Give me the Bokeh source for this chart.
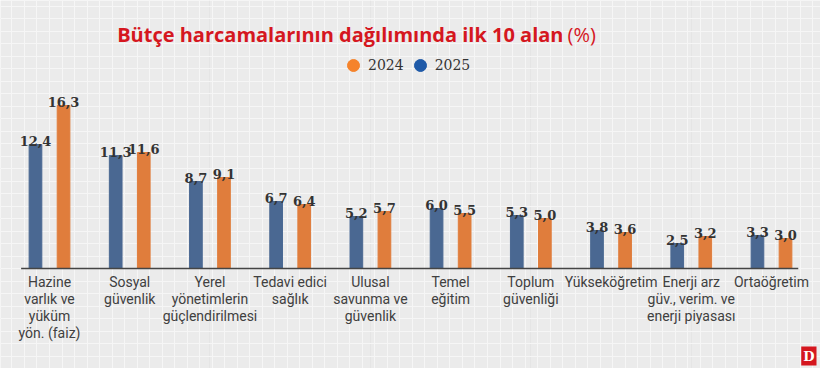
from bokeh.plotting import figure
from bokeh.models import (ColumnDataSource, Range1d, Label, Legend, LegendItem,
                          Grid, SingleIntervalTicker)
from bokeh.core.properties import value
from bokeh.embed import file_html
from bokeh.resources import INLINE
import numpy as np

# ---- data ----
categories = [
    "Hazine\nvarlık ve\nyüküm\nyön. (faiz)",
    "Sosyal\ngüvenlik",
    "Yerel\nyönetimlerin\ngüçlendirilmesi",
    "Tedavi edici\nsağlık",
    "Ulusal\nsavunma ve\ngüvenlik",
    "Temel\neğitim",
    "Toplum\ngüvenliği",
    "Yükseköğretim",
    "Enerji arz\ngüv., verim. ve\nenerji piyasası",
    "Ortaöğretim",
]
values_2025 = [12.4, 11.3, 8.7, 6.7, 5.2, 6.0, 5.3, 3.8, 2.5, 3.3]
values_2024 = [16.3, 11.6, 9.1, 6.4, 5.7, 5.5, 5.0, 3.6, 3.2, 3.0]
series_names = ["2024", "2025"]

title_main = "Bütçe harcamalarının dağılımında ilk 10 alan"
title_unit = "(%)"

# ---- styles ----
BLUE = "#4a6892"
ORANGE = "#e07d3c"
LEG_BLUE = "#1f5aa8"
LEG_ORANGE = "#f5832b"
RED = "#d5171f"
TXT = "#333333"
W, H = 820, 368
DODGE = 0.175
BAR_W = 0.158

xs = np.arange(len(categories), dtype=float)

def fmt(v):
    return f"{v:.1f}".replace(".", ",")

src = ColumnDataSource(dict(
    x=xs,
    x25=xs - DODGE,
    x24=xs + DODGE,
    v25=values_2025,
    v24=values_2024,
    l25=[fmt(v) for v in values_2025],
    l24=[fmt(v) for v in values_2024],
    cat=categories,
    zero=[0.0] * len(categories),
))

p = figure(width=W, height=H, output_backend="svg", toolbar_location=None,
           x_range=Range1d(-0.611, 9.611), y_range=Range1d(-10.0, 26.8),
           x_axis_location=None, y_axis_location=None,
           min_border=0, background_fill_color="#ebebeb",
           border_fill_color="#ebebeb", outline_line_color=None)

# background pattern grid
for dim, interval in ((0, 0.156), (1, 1.25)):
    g = Grid(dimension=dim, ticker=SingleIntervalTicker(interval=interval),
             grid_line_color="#f6f6f6", grid_line_width=1)
    p.add_layout(g)

# bars
p.vbar(x="x25", top="v25", width=BAR_W, source=src, color=BLUE)
p.vbar(x="x24", top="v24", width=BAR_W, source=src, color=ORANGE)

# baseline
p.segment(x0=[xs[0] - DODGE - BAR_W / 2 - 0.1], x1=[xs[-1] + DODGE + BAR_W / 2 + 0.08],
          y0=[0], y1=[0], line_color="#444444", line_width=1.3)

# value labels
for xcol, vcol, lcol in (("x25", "v25", "l25"), ("x24", "v24", "l24")):
    p.text(x=xcol, y=vcol, text=lcol, source=src, y_offset=-4,
           text_align="center", text_baseline="alphabetic",
           text_font=value("DejaVu Serif"), text_font_style="bold",
           text_font_size="13px", text_color=TXT)

# category labels
p.text(x="x", y="zero", text="cat", source=src, y_offset=5,
       text_align="center", text_baseline="top", text_line_height=1.08,
       text_font=value("Roboto"), text_font_size="14px", text_color="#404040")

# title
p.add_layout(Label(x=563, y=H - 34, x_units="screen", y_units="screen",
                   text=title_main, text_align="right", text_baseline="alphabetic",
                   text_font="Open Sans", text_font_style="bold",
                   text_font_size="20px", text_color=RED))
p.add_layout(Label(x=567, y=H - 34, x_units="screen", y_units="screen",
                   text=title_unit, text_align="left", text_baseline="alphabetic",
                   text_font="Open Sans", text_font_style="normal",
                   text_font_size="20px", text_color=RED))

# legend
nan = [float("nan")]
r24 = p.scatter(x=nan, y=nan, marker="circle", size=12, color=LEG_ORANGE)
r25 = p.scatter(x=nan, y=nan, marker="circle", size=12, color=LEG_BLUE)
legend = Legend(items=[LegendItem(label=series_names[0], renderers=[r24]),
                       LegendItem(label=series_names[1], renderers=[r25])],
                orientation="horizontal", location=(338, H - 80),
                glyph_width=30, glyph_height=30, label_height=30,
                label_standoff=0, spacing=1,
                padding=0, margin=0, border_line_color=None,
                background_fill_alpha=0,
                label_text_font="DejaVu Serif", label_text_font_size="14px",
                label_text_color=TXT)
p.add_layout(legend)

# logo
p.add_layout(Label(x=W - 4, y=3, x_units="screen", y_units="screen",
                   text="D", text_align="right", text_baseline="bottom",
                   text_font="DejaVu Serif", text_font_style="bold",
                   text_font_size="13px", text_color="white", padding=2,
                   background_fill_color=RED))

open("out.html", "w").write(file_html(p, INLINE))
